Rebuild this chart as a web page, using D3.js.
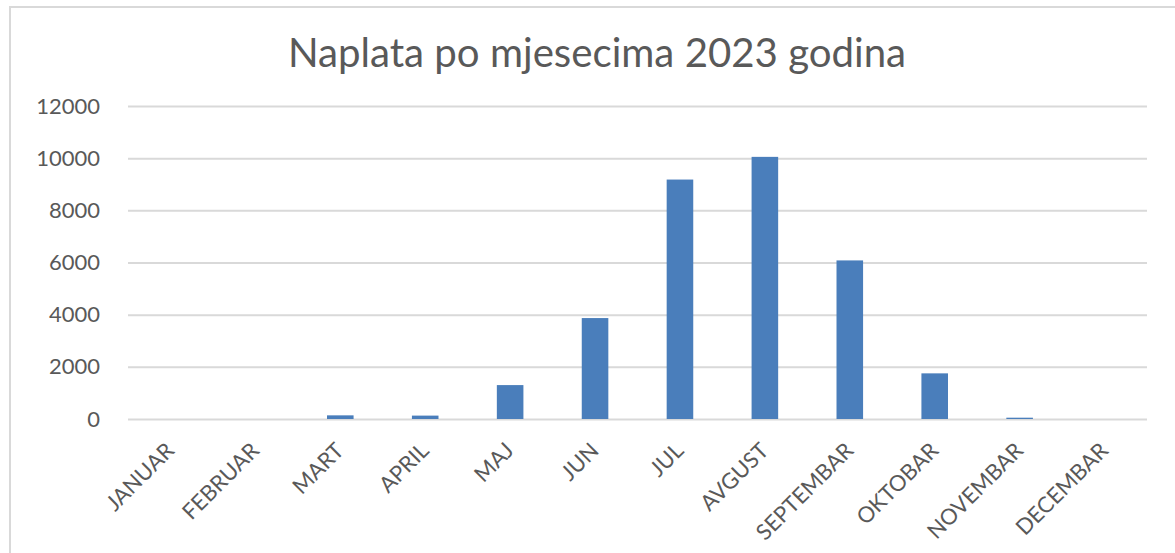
<!DOCTYPE html>
<html>
<head>
<meta charset="utf-8">
<script src="https://cdn.jsdelivr.net/npm/d3@7"></script>
<style>
    html, body { margin: 0; padding: 0; background: #fff; }
    svg { display: block; }
</style>
</head>
<body>
<svg id="chart"></svg>
<script>
// data
const months = ['JANUAR', 'FEBRUAR', 'MART', 'APRIL', 'MAJ', 'JUN', 'JUL', 'AVGUST', 'SEPTEMBAR', 'OKTOBAR', 'NOVEMBAR', 'DECEMBAR'];
const naplata = [0, 0, 140, 130, 1300, 3870, 9180, 10050, 6080, 1750, 50, 0];
const yTicks = [0, 2000, 4000, 6000, 8000, 10000, 12000];
const title = 'Naplata po mjesecima 2023 godina';

const width = 1175, height = 553;
const margin = { top: 106, right: 28, bottom: 134, left: 128 };
const font = 'Lato, Carlito, Calibri, sans-serif';

const svg = d3.select('#chart')
    .attr('width', width)
    .attr('height', height);

// chart area frame (runs off the right and bottom)
svg.append('rect')
    .attr('x', 10).attr('y', 7)
    .attr('width', 1200).attr('height', 600)
    .attr('fill', '#fff')
    .attr('stroke', '#d9d9d9')
    .attr('stroke-width', 2);

const x = d3.scaleBand()
    .domain(months)
    .range([margin.left, width - margin.right])
    .paddingInner(0.687)
    .paddingOuter(0.3435);

const y = d3.scaleLinear()
    .domain([0, 12000])
    .range([height - margin.bottom, margin.top]);

// gridlines + y labels
const yAxis = svg.append('g')
    .attr('transform', `translate(${margin.left},0)`)
    .call(d3.axisLeft(y)
        .tickValues(yTicks)
        .tickFormat(d3.format('d'))
        .tickSize(-(width - margin.left - margin.right))
        .tickPadding(28))
    .call(g => g.select('.domain').remove());

yAxis.selectAll('.tick line')
    .attr('stroke', '#d9d9d9')
    .attr('stroke-width', 2);

yAxis.selectAll('.tick text')
    .attr('fill', '#595959')
    .style('font-family', font)
    .style('font-size', '22px');

// bars
svg.append('g')
    .selectAll('rect')
    .data(naplata)
    .join('rect')
    .attr('x', (d, i) => x(months[i]))
    .attr('y', d => y(d))
    .attr('width', x.bandwidth())
    .attr('height', d => y(0) - y(d))
    .attr('fill', '#4a7ebb');

// category labels, rotated
svg.append('g')
    .selectAll('text')
    .data(months)
    .join('text')
    .attr('transform', d => `translate(${x(d) + x.bandwidth() / 2 + 5},${y(0) + 33}) rotate(-45)`)
    .attr('text-anchor', 'end')
    .attr('fill', '#595959')
    .style('font-family', font)
    .style('font-size', '22px')
    .text(d => d);

// title, fitted to the width it takes in the picture
const titleText = svg.append('text')
    .attr('x', 597)
    .attr('y', 67)
    .attr('text-anchor', 'middle')
    .attr('fill', '#595959')
    .style('font-family', font)
    .style('font-size', '36px')
    .text(title);

const tw = titleText.node().getComputedTextLength();
titleText.style('font-size', (36 * 619 / tw).toFixed(1) + 'px');
</script>
</body>
</html>
